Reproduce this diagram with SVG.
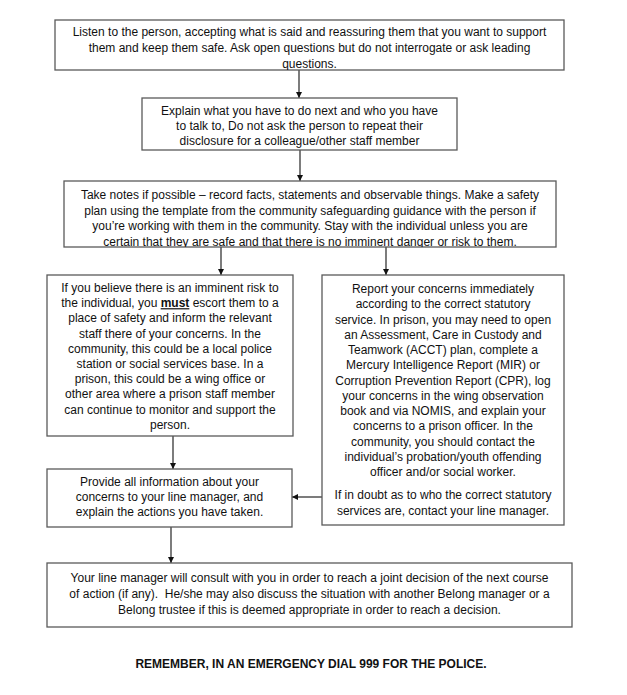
<svg xmlns="http://www.w3.org/2000/svg" width="627" height="695" viewBox="0 0 627 695">
<style>
.box{fill:#ffffff;stroke:#5a5a5a;stroke-width:1.3}
.t{font-family:"Liberation Sans",Arial,sans-serif;font-size:12px;fill:#111111;text-anchor:middle}
.b{font-family:"Liberation Sans",Arial,sans-serif;font-size:12px;font-weight:bold;fill:#111111;text-anchor:middle}
.c{stroke:#111111;stroke-width:1.1;fill:none;marker-end:url(#ah)}
</style>
<defs>
<marker id="ah" viewBox="0 0 10 10" refX="10" refY="5" markerWidth="6" markerHeight="6" markerUnits="userSpaceOnUse" orient="auto">
<path d="M0,0 L10,5 L0,10 Z" fill="#111111"/>
</marker>
<clipPath id="clip1"><rect x="55" y="20" width="509" height="50"/></clipPath>
<clipPath id="clip3"><rect x="64" y="181" width="492" height="66"/></clipPath>
</defs>
<rect width="627" height="695" fill="#ffffff"/>

<g id="connectors">
<line class="c" x1="299" y1="70" x2="299" y2="98"/>
<line class="c" x1="300" y1="150" x2="300" y2="181"/>
<line class="c" x1="221" y1="247" x2="221" y2="275"/>
<line class="c" x1="386" y1="247" x2="386" y2="275"/>
<line class="c" x1="173" y1="436" x2="173" y2="469"/>
<line class="c" x1="322" y1="497" x2="292" y2="497"/>
<line class="c" x1="171" y1="527" x2="171" y2="563"/>
</g>

<g id="n1">
<rect class="box" x="55" y="20" width="509" height="50"/>
<g clip-path="url(#clip1)">
<text class="t" x="309.5" y="36">Listen to the person, accepting what is said and reassuring them that you want to support</text>
<text class="t" x="309.5" y="51.5">them and keep them safe. Ask open questions but do not interrogate or ask leading</text>
<text class="t" x="309.5" y="68">questions.</text>
</g>
</g>

<g id="n2">
<rect class="box" x="142" y="98" width="315" height="52"/>
<text class="t" x="299.5" y="115">Explain what you have to do next and who you have</text>
<text class="t" x="299.5" y="130">to talk to, Do not ask the person to repeat their</text>
<text class="t" x="299.5" y="145">disclosure for a colleague/other staff member</text>
</g>

<g id="n3">
<rect class="box" x="64" y="181" width="492" height="66"/>
<g clip-path="url(#clip3)">
<text class="t" x="310" y="199">Take notes if possible – record facts, statements and observable things. Make a safety</text>
<text class="t" x="310" y="214.5">plan using the template from the community safeguarding guidance with the person if</text>
<text class="t" x="310" y="230">you’re working with them in the community. Stay with the individual unless you are</text>
<text class="t" x="310" y="245.5">certain that they are safe and that there is no imminent danger or risk to them.</text>
</g>
</g>

<g id="n4">
<rect class="box" x="47" y="275" width="246" height="161"/>
<text class="t" x="170" y="292">If you believe there is an imminent risk to</text>
<text class="t" x="170" y="307.2">the individual, you <tspan font-weight="bold" text-decoration="underline">must</tspan> escort them to a</text>
<text class="t" x="170" y="322.4">place of safety and inform the relevant</text>
<text class="t" x="170" y="337.6">staff there of your concerns. In the</text>
<text class="t" x="170" y="352.8">community, this could be a local police</text>
<text class="t" x="170" y="368">station or social services base. In a</text>
<text class="t" x="170" y="383.2">prison, this could be a wing office or</text>
<text class="t" x="170" y="398.4">other area where a prison staff member</text>
<text class="t" x="170" y="413.6">can continue to monitor and support the</text>
<text class="t" x="170" y="428.8">person.</text>
</g>

<g id="n5">
<rect class="box" x="322" y="275" width="242" height="250"/>
<text class="t" x="443" y="293">Report your concerns immediately</text>
<text class="t" x="443" y="308.25">according to the correct statutory</text>
<text class="t" x="443" y="323.5">service. In prison, you may need to open</text>
<text class="t" x="443" y="338.75">an Assessment, Care in Custody and</text>
<text class="t" x="443" y="354">Teamwork (ACCT) plan, complete a</text>
<text class="t" x="443" y="369.25">Mercury Intelligence Report (MIR) or</text>
<text class="t" x="443" y="384.5">Corruption Prevention Report (CPR), log</text>
<text class="t" x="443" y="399.75">your concerns in the wing observation</text>
<text class="t" x="443" y="415">book and via NOMIS, and explain your</text>
<text class="t" x="443" y="430.25">concerns to a prison officer. In the</text>
<text class="t" x="443" y="445.5">community, you should contact the</text>
<text class="t" x="443" y="460.75">individual’s probation/youth offending</text>
<text class="t" x="443" y="476">officer and/or social worker.</text>
<text class="t" x="443" y="499">If in doubt as to who the correct statutory</text>
<text class="t" x="443" y="515">services are, contact your line manager.</text>
</g>

<g id="n6">
<rect class="box" x="47" y="469" width="245" height="58"/>
<text class="t" x="169.5" y="486">Provide all information about your</text>
<text class="t" x="169.5" y="501">concerns to your line manager, and</text>
<text class="t" x="169.5" y="516">explain the actions you have taken.</text>
</g>

<g id="n7">
<rect class="box" x="47" y="563" width="525" height="64"/>
<text class="t" x="309.5" y="581.5">Your line manager will consult with you in order to reach a joint decision of the next course</text>
<text class="t" x="309.5" y="597.5" xml:space="preserve">of action (if any).  He/she may also discuss the situation with another Belong manager or a</text>
<text class="t" x="309.5" y="613.5">Belong trustee if this is deemed appropriate in order to reach a decision.</text>
</g>

<g id="footer">
<text class="b" x="311" y="668">REMEMBER, IN AN EMERGENCY DIAL 999 FOR THE POLICE.</text>
</g>
</svg>
